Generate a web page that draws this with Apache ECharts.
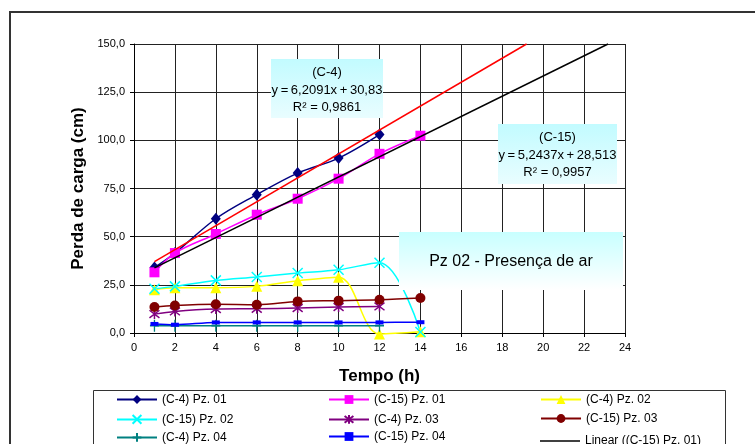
<!DOCTYPE html>
<html><head><meta charset="utf-8">
<script src="https://cdn.jsdelivr.net/npm/echarts@6/dist/echarts.min.js"></script>
<style>html,body{margin:0;padding:0;background:#fff}#c{width:755px;height:444px}</style>
</head><body><div id="c"></div>
<script>
// ---- data ----
const hours = [1, 2, 4, 6, 8, 10, 12, 14];
const c4pz01  = [34.0, 41.5, 59.3, 71.8, 83.0, 90.8, 103.0];
const c15pz01 = [31.5, 41.5, 51.4, 61.4, 69.7, 80.1, 93.0, 102.4];
const c4pz02  = [22.5, 23.5, 23.5, 24.2, 27.1, 29.0, -0.5, 0.6];
const c15pz02 = [23.0, 24.2, 27.3, 29.1, 31.1, 32.8, 36.5, 0.5];
const c4pz03  = [9.8, 11.2, 12.4, 12.6, 13.0, 13.5, 13.8];
const c15pz03 = [13.5, 14.3, 14.9, 14.7, 16.4, 16.8, 17.3, 18.2];
const c4pz04  = [3.8, 3.8, 3.8, 3.8, 3.8, 3.8, 3.8];
const c15pz04 = [4.7, 4.3, 5.5, 5.5, 5.5, 5.5, 5.5, 5.6];
// trendline end points (x, y)
const trendC4  = [[1, 37.0], [19.19, 150.0]];
const trendC15 = [[1, 33.8], [23.17, 150.0]];
const seriesNames = ['(C-4) Pz. 01', '(C-15) Pz. 01', '(C-4) Pz. 02', '(C-15) Pz. 02', '(C-4) Pz. 03', '(C-15) Pz. 03', '(C-4) Pz. 04', '(C-15) Pz. 04', 'Linear ((C-15) Pz. 01)'];
const eqC4  = ['(C-4)', 'y\u2009=\u20096,2091x\u2009+\u200930,83', 'R\u00B2 = 0,9861'];
const eqC15 = ['(C-15)', 'y\u2009=\u20095,2437x\u2009+\u200928,513', 'R\u00B2 = 0,9957'];
const noteText = 'Pz 02 - Presença de ar';
const xAxisName = 'Tempo (h)';
const yAxisName = 'Perda de carga (cm)';

// ---- chart ----
const FONT = '"Liberation Sans", Arial, sans-serif';
const pts = vals => vals.map((v, i) => [hours[i], v]);
const X_PATH = 'path://M0,0L10,10M10,0L0,10';
const AST_PATH = 'path://M0,0L10,10M10,0L0,10M5,-1.5L5,11.5';
const PLUS_PATH = 'path://M5,0L5,12M1,6L9,6';

function mk(name, data, color, symbol, size, extra) {
  return Object.assign({
    name, type: 'line', data: pts(data), smooth: 0.35, clip: false,
    symbol, symbolSize: size, showSymbol: true,
    lineStyle: { color, width: 1.5 },
    itemStyle: { color, borderColor: color, borderWidth: 0 },
    emphasis: { disabled: true }, z: 3
  }, extra || {});
}

const series = [
  mk(seriesNames[0], c4pz01, '#000080', 'diamond', [10, 12]),
  mk(seriesNames[1], c15pz01, '#FF00FF', 'rect', 10),
  mk(seriesNames[2], c4pz02, '#FFFF00', 'triangle', 11),
  mk(seriesNames[3], c15pz02, '#00FFFF', X_PATH, 10, { itemStyle: { color: 'none', borderColor: '#00FFFF', borderWidth: 1.5 } }),
  mk(seriesNames[4], c4pz03, '#800080', AST_PATH, 10, { itemStyle: { color: 'none', borderColor: '#800080', borderWidth: 1.5 } }),
  mk(seriesNames[5], c15pz03, '#800000', 'circle', 10),
  mk(seriesNames[6], c4pz04, '#008080', PLUS_PATH, [9, 12], { itemStyle: { color: 'none', borderColor: '#008080', borderWidth: 1.5 } }),
  mk(seriesNames[7], c15pz04, '#0000FF', 'rect', [8, 4]),
  { name: seriesNames[8], type: 'line', data: trendC15, symbol: 'none', clip: false,
    lineStyle: { color: '#000000', width: 1.5 }, itemStyle: { color: '#000000' },
    emphasis: { disabled: true }, z: 4 },
  { name: 'Linear ((C-4) Pz. 01)', type: 'line', data: trendC4, symbol: 'none', clip: false,
    lineStyle: { color: '#FF0000', width: 1.5 }, itemStyle: { color: '#FF0000' },
    emphasis: { disabled: true }, z: 4 }
];

const colX = [116, 328, 540];
const rowY = [399, 418, 436];
const legends = seriesNames.map((n, i) => {
  const isTrend = i === 8;
  return {
    data: [isTrend ? { name: n, icon: 'rect' } : n],
    left: colX[i % 3], top: rowY[Math.floor(i / 3)] - (isTrend ? 1 : 5.5),
    orient: 'horizontal', itemWidth: 40, itemHeight: isTrend ? 1.5 : 11, padding: 0,
    selectedMode: false,
    textStyle: { fontFamily: FONT, fontSize: 12, color: '#000' }
  };
});

function eqBox(x, y, w, h, lines, lineYs) {
  const out = [{
    type: 'rect', z: 100, shape: { x, y, width: w, height: h },
    style: { fill: new echarts.graphic.LinearGradient(0, 0, 0, 1, [
      { offset: 0, color: '#c2fbff' }, { offset: 1, color: '#e9fdff' }]) }
  }];
  lines.forEach((t, i) => out.push({
    type: 'text', z: 101, style: { text: t, x: x + w / 2, y: lineYs[i], align: 'center', verticalAlign: 'middle',
      font: '13px ' + FONT, fill: '#000' }
  }));
  return out;
}

const option = {
  animation: false,
  backgroundColor: '#fff',
  textStyle: { fontFamily: FONT },
  grid: { left: 134, top: 44, width: 491, height: 289, containLabel: false },
  xAxis: {
    type: 'value', min: 0, max: 24, interval: 2,
    name: xAxisName, nameLocation: 'middle', nameGap: 35,
    nameTextStyle: { fontFamily: FONT, fontSize: 17, fontWeight: 'bold', color: '#000' },
    axisLine: { show: true, onZero: false, lineStyle: { color: '#000', width: 1 } },
    axisTick: { show: true, inside: false, length: 4, lineStyle: { color: '#000' } },
    axisLabel: { fontFamily: FONT, fontSize: 11, color: '#000', margin: 9 },
    splitLine: { show: true, lineStyle: { color: '#222', width: 1 } }
  },
  yAxis: {
    type: 'value', min: 0, max: 150, interval: 25,
    name: yAxisName, nameLocation: 'middle', nameGap: 47, nameRotate: 90,
    nameTextStyle: { fontFamily: FONT, fontSize: 17, fontWeight: 'bold', color: '#000' },
    axisLine: { show: true, lineStyle: { color: '#000', width: 1 } },
    axisTick: { show: true, inside: false, length: 4, lineStyle: { color: '#000' } },
    axisLabel: { fontFamily: FONT, fontSize: 11, color: '#000', margin: 9,
      formatter: v => v.toFixed(1).replace('.', ',') },
    splitLine: { show: true, lineStyle: { color: '#222', width: 1 } }
  },
  legend: legends,
  series,
  graphic: [
    { type: 'rect', shape: { x: 10, y: 12, width: 800, height: 500 },
      style: { fill: 'none', stroke: '#333', lineWidth: 2 }, z: 1, silent: true },
    { type: 'rect', shape: { x: 93.5, y: 390.5, width: 632, height: 80 },
      style: { fill: 'none', stroke: '#333', lineWidth: 1 }, z: 1, silent: true },
    ...eqBox(271, 59, 112, 59, eqC4, [72, 90, 107]),
    ...eqBox(498, 124, 119, 60, eqC15, [137, 155, 172]),
    { type: 'rect', z: 100, shape: { x: 399, y: 232, width: 224, height: 58 },
      style: { fill: new echarts.graphic.LinearGradient(0, 0, 0, 1, [
        { offset: 0, color: '#c8ffff' }, { offset: 1, color: '#ffffff' }]) } },
    { type: 'text', z: 101, style: { text: noteText, x: 511, y: 262, align: 'center', verticalAlign: 'middle',
      font: '16px ' + FONT, fill: '#000' } }
  ]
};
const chart = echarts.init(document.getElementById('c'), null, { renderer: 'canvas' });
chart.setOption(option);
</script></body></html>
